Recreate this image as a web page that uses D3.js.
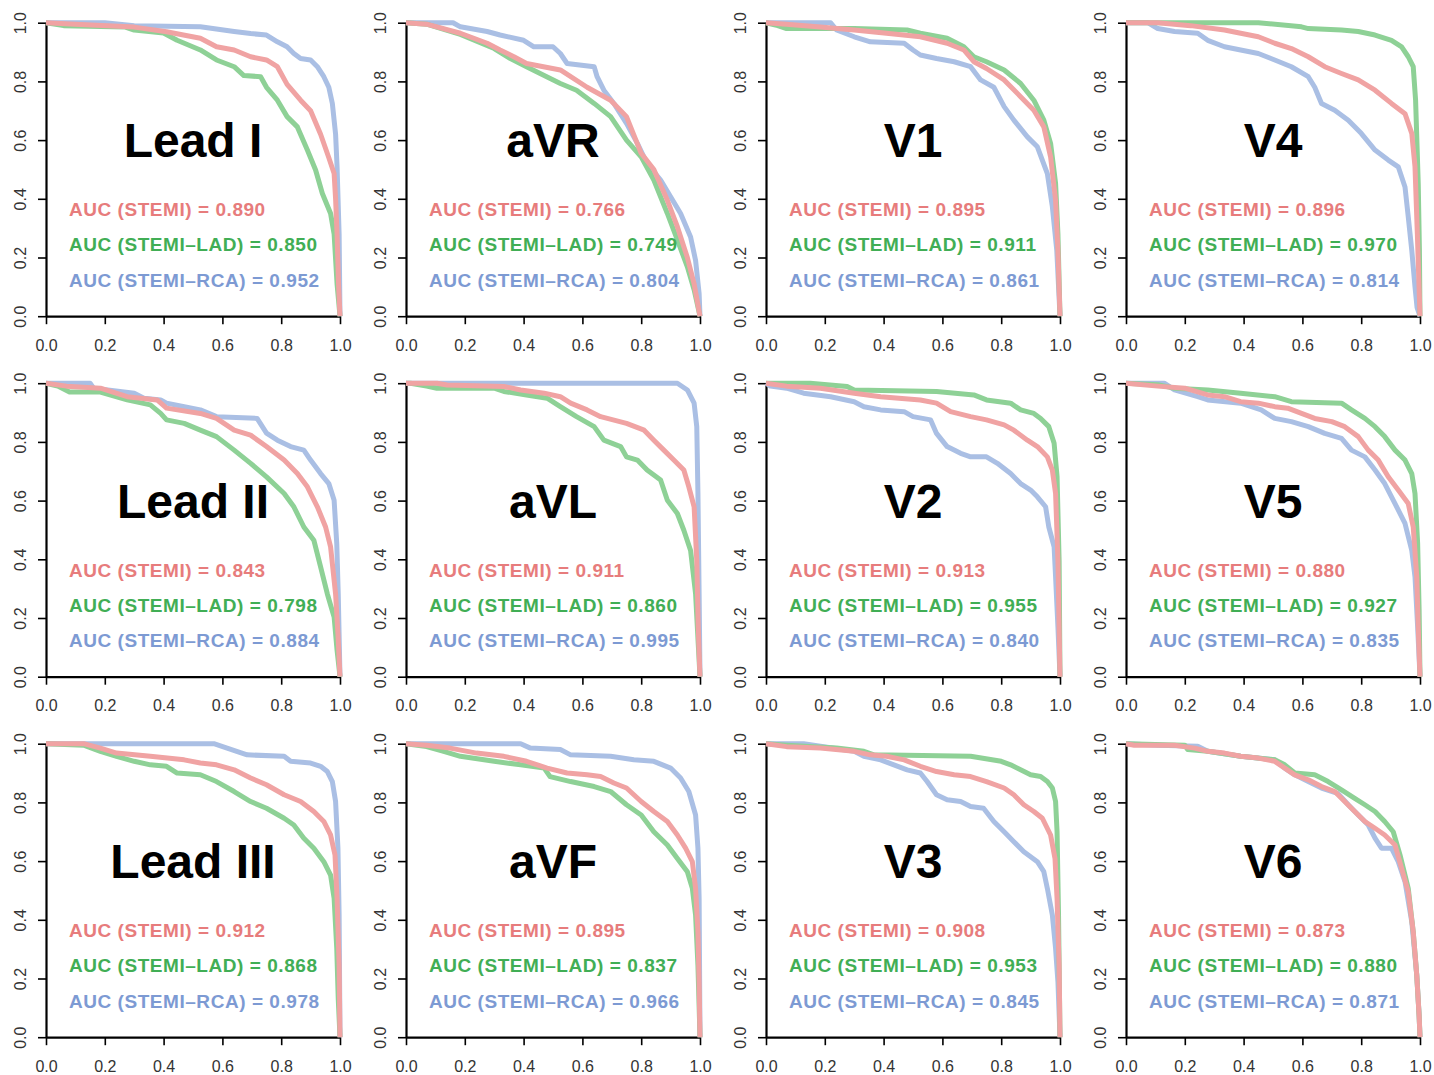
<!DOCTYPE html>
<html>
<head>
<meta charset="utf-8">
<script src="https://cdn.jsdelivr.net/npm/d3@7"></script>
<style>
  html, body { margin: 0; padding: 0; background: #ffffff; }
  svg { display: block; font-family: "Liberation Sans", Arial, Helvetica, sans-serif; }
</style>
</head>
<body>
<svg id="chart" width="1434" height="1075"></svg>
<script>
// ---------------- DATA ----------------
const leads = ["Lead I", "aVR", "V1", "V4",
               "Lead II", "aVL", "V2", "V5",
               "Lead III", "aVF", "V3", "V6"];

const seriesNames = ["STEMI", "STEMI\u2013LAD", "STEMI\u2013RCA"];

const aucStemi = ["0.890", "0.766", "0.895", "0.896", "0.843", "0.911", "0.913", "0.880", "0.912", "0.895", "0.908", "0.873"];
const aucLad   = ["0.850", "0.749", "0.911", "0.970", "0.798", "0.860", "0.955", "0.927", "0.868", "0.837", "0.953", "0.880"];
const aucRca   = ["0.952", "0.804", "0.861", "0.814", "0.884", "0.995", "0.840", "0.835", "0.978", "0.966", "0.845", "0.871"];

const tickValues = [0, 0.2, 0.4, 0.6, 0.8, 1.0];

// ROC curves: [x, y] points, one list per lead
const stemiCurves = [
  // Lead I
  [[0,1],[0.1,0.995],[0.3,0.985],[0.41,0.969],[0.525,0.947],[0.58,0.918],[0.64,0.907],[0.696,0.884],[0.75,0.873],[0.787,0.85],[0.82,0.79],[0.866,0.736],[0.9,0.70],[0.934,0.62],[0.962,0.54],[0.98,0.486],[0.985,0.4],[0.99,0.28],[0.995,0.11],[1,0]],
  // aVR
  [[0,1],[0.07,0.995],[0.185,0.964],[0.276,0.93],[0.32,0.907],[0.367,0.884],[0.41,0.861],[0.525,0.839],[0.616,0.78],[0.696,0.736],[0.75,0.68],[0.8,0.555],[0.843,0.5],[0.889,0.395],[0.923,0.305],[0.957,0.2],[0.98,0.11],[1,0]],
  // V1
  [[0,1],[0.07,0.995],[0.185,0.985],[0.3,0.975],[0.41,0.964],[0.525,0.952],[0.616,0.93],[0.673,0.907],[0.707,0.867],[0.75,0.844],[0.81,0.805],[0.866,0.748],[0.911,0.702],[0.945,0.645],[0.968,0.543],[0.985,0.395],[0.993,0.225],[1,0]],
  // V4
  [[0,1],[0.108,1.0],[0.22,0.99],[0.335,0.975],[0.39,0.964],[0.45,0.952],[0.506,0.93],[0.5625,0.912],[0.62,0.884],[0.676,0.85],[0.733,0.827],[0.79,0.805],[0.847,0.77],[0.903,0.725],[0.949,0.69],[0.972,0.623],[0.983,0.509],[0.991,0.28],[1,0]],
  // Lead II
  [[0,1],[0.07,0.99],[0.185,0.983],[0.276,0.954],[0.378,0.943],[0.41,0.915],[0.525,0.897],[0.58,0.88],[0.64,0.84],[0.696,0.823],[0.75,0.784],[0.81,0.738],[0.855,0.692],[0.889,0.647],[0.923,0.579],[0.951,0.51],[0.968,0.442],[0.985,0.282],[0.993,0.146],[1,0]],
  // aVL
  [[0,1],[0.105,1.0],[0.14,0.994],[0.333,0.989],[0.39,0.977],[0.47,0.966],[0.525,0.954],[0.56,0.932],[0.616,0.909],[0.662,0.886],[0.75,0.863],[0.81,0.84],[0.843,0.806],[0.877,0.772],[0.911,0.738],[0.945,0.704],[0.962,0.647],[0.98,0.579],[0.989,0.396],[0.994,0.169],[1,0]],
  // V2
  [[0,1],[0.07,0.99],[0.185,0.983],[0.3,0.966],[0.39,0.954],[0.525,0.943],[0.58,0.932],[0.628,0.903],[0.696,0.886],[0.75,0.875],[0.81,0.858],[0.843,0.84],[0.889,0.806],[0.923,0.784],[0.957,0.749],[0.974,0.704],[0.985,0.624],[0.993,0.396],[1,0]],
  // V5
  [[0,1],[0.108,0.99],[0.2,0.983],[0.278,0.96],[0.335,0.954],[0.39,0.937],[0.45,0.932],[0.506,0.92],[0.55,0.915],[0.597,0.897],[0.642,0.88],[0.7,0.869],[0.744,0.852],[0.79,0.818],[0.824,0.772],[0.858,0.738],[0.892,0.681],[0.926,0.636],[0.96,0.59],[0.977,0.51],[0.989,0.34],[0.994,0.169],[1,0]],
  // Lead III
  [[0,1],[0.128,1.0],[0.185,0.985],[0.24,0.968],[0.355,0.957],[0.47,0.945],[0.525,0.934],[0.58,0.928],[0.64,0.911],[0.696,0.883],[0.75,0.86],[0.81,0.826],[0.866,0.803],[0.911,0.769],[0.945,0.735],[0.968,0.689],[0.983,0.621],[0.99,0.473],[0.997,0.245],[1,0]],
  // aVF
  [[0,1],[0.07,0.995],[0.15,0.985],[0.24,0.968],[0.333,0.957],[0.41,0.94],[0.48,0.917],[0.548,0.9],[0.616,0.894],[0.662,0.888],[0.707,0.866],[0.75,0.849],[0.8,0.803],[0.843,0.769],[0.889,0.735],[0.923,0.689],[0.951,0.644],[0.974,0.598],[0.985,0.507],[0.993,0.359],[0.997,0.188],[1,0]],
  // V3
  [[0,1],[0.07,0.99],[0.185,0.985],[0.3,0.974],[0.355,0.962],[0.41,0.957],[0.47,0.945],[0.525,0.923],[0.58,0.905],[0.64,0.894],[0.696,0.888],[0.75,0.871],[0.81,0.849],[0.843,0.826],[0.877,0.792],[0.911,0.769],[0.94,0.746],[0.968,0.689],[0.983,0.609],[0.99,0.473],[0.997,0.245],[1,0]],
  // V6
  [[0,1],[0.028,0.995],[0.165,0.995],[0.233,0.985],[0.278,0.974],[0.335,0.968],[0.39,0.957],[0.45,0.951],[0.506,0.94],[0.54,0.917],[0.574,0.894],[0.62,0.877],[0.665,0.854],[0.71,0.837],[0.744,0.803],[0.778,0.769],[0.8125,0.735],[0.847,0.712],[0.88,0.689],[0.915,0.655],[0.9375,0.575],[0.96,0.495],[0.977,0.359],[0.989,0.211],[0.997,0.074],[1,0]]
];

const ladCurves = [
  // Lead I
  [[0,1],[0.06,0.99],[0.27,0.985],[0.3,0.975],[0.4,0.965],[0.446,0.94],[0.525,0.907],[0.58,0.873],[0.64,0.85],[0.673,0.82],[0.73,0.816],[0.75,0.78],[0.787,0.736],[0.82,0.68],[0.855,0.645],[0.889,0.566],[0.917,0.498],[0.94,0.418],[0.968,0.35],[0.98,0.28],[0.99,0.11],[1,0]],
  // aVR
  [[0,1],[0.07,0.995],[0.185,0.96],[0.3,0.912],[0.355,0.878],[0.41,0.85],[0.47,0.82],[0.525,0.793],[0.58,0.77],[0.64,0.725],[0.696,0.68],[0.75,0.6],[0.8,0.543],[0.843,0.464],[0.889,0.35],[0.923,0.26],[0.957,0.168],[0.98,0.09],[1,0]],
  // V1
  [[0,1],[0.04,0.99],[0.07,0.98],[0.3,0.98],[0.48,0.975],[0.525,0.964],[0.616,0.947],[0.673,0.918],[0.707,0.884],[0.75,0.867],[0.81,0.839],[0.866,0.793],[0.911,0.736],[0.945,0.668],[0.968,0.589],[0.985,0.452],[0.993,0.28],[1,0]],
  // V4
  [[0,1],[0.45,1.0],[0.597,0.986],[0.62,0.98],[0.733,0.975],[0.79,0.97],[0.847,0.958],[0.903,0.94],[0.9375,0.918],[0.96,0.884],[0.977,0.85],[0.985,0.736],[0.994,0.452],[0.998,0.225],[1,0]],
  // Lead II
  [[0,1],[0.04,0.99],[0.08,0.97],[0.185,0.97],[0.276,0.943],[0.355,0.926],[0.39,0.897],[0.41,0.875],[0.47,0.863],[0.525,0.84],[0.58,0.818],[0.64,0.772],[0.696,0.727],[0.75,0.681],[0.81,0.624],[0.843,0.579],[0.877,0.51],[0.911,0.465],[0.934,0.374],[0.957,0.282],[0.98,0.203],[0.99,0.09],[1,0]],
  // aVL
  [[0,1],[0.015,1.0],[0.07,0.99],[0.105,0.983],[0.3,0.983],[0.333,0.972],[0.41,0.96],[0.48,0.949],[0.525,0.92],[0.58,0.886],[0.64,0.852],[0.673,0.806],[0.73,0.784],[0.75,0.749],[0.787,0.738],[0.82,0.704],[0.866,0.67],[0.889,0.601],[0.923,0.556],[0.945,0.499],[0.968,0.43],[0.985,0.282],[0.994,0.112],[1,0]],
  // V2
  [[0,1],[0.15,1.0],[0.276,0.989],[0.3,0.977],[0.58,0.972],[0.707,0.96],[0.75,0.943],[0.832,0.932],[0.866,0.909],[0.911,0.897],[0.934,0.88],[0.962,0.852],[0.98,0.795],[0.99,0.681],[0.997,0.396],[1,0]],
  // V5
  [[0,1],[0.108,0.995],[0.165,0.983],[0.278,0.977],[0.39,0.966],[0.506,0.954],[0.5625,0.937],[0.733,0.932],[0.767,0.909],[0.8125,0.88],[0.847,0.852],[0.88,0.818],[0.915,0.772],[0.949,0.738],[0.972,0.692],[0.983,0.624],[0.992,0.453],[0.997,0.226],[1,0]],
  // Lead III
  [[0,1],[0.128,0.995],[0.185,0.974],[0.24,0.957],[0.3,0.94],[0.355,0.928],[0.41,0.923],[0.446,0.9],[0.525,0.894],[0.58,0.871],[0.64,0.837],[0.696,0.803],[0.75,0.78],[0.81,0.746],[0.843,0.723],[0.877,0.678],[0.911,0.644],[0.945,0.598],[0.968,0.552],[0.98,0.473],[0.989,0.302],[0.994,0.131],[1,0]],
  // aVF
  [[0,1],[0.07,0.99],[0.128,0.974],[0.185,0.957],[0.3,0.94],[0.39,0.928],[0.47,0.917],[0.49,0.888],[0.56,0.871],[0.64,0.854],[0.696,0.837],[0.75,0.792],[0.8,0.757],[0.843,0.7],[0.889,0.655],[0.923,0.609],[0.957,0.564],[0.974,0.507],[0.985,0.416],[0.993,0.245],[1,0]],
  // V3
  [[0,1],[0.07,0.995],[0.24,0.985],[0.333,0.974],[0.367,0.962],[0.696,0.957],[0.8,0.94],[0.832,0.928],[0.866,0.911],[0.9,0.894],[0.934,0.888],[0.957,0.871],[0.974,0.849],[0.985,0.803],[0.99,0.7],[0.995,0.416],[1,0]],
  // V6
  [[0,1],[0.2,0.995],[0.21,0.98],[0.278,0.974],[0.39,0.957],[0.506,0.945],[0.54,0.928],[0.574,0.9],[0.642,0.894],[0.6875,0.871],[0.733,0.843],[0.778,0.814],[0.8125,0.792],[0.847,0.769],[0.88,0.735],[0.909,0.7],[0.932,0.621],[0.96,0.507],[0.977,0.359],[0.989,0.211],[0.997,0.074],[1,0]]
];

const rcaCurves = [
  // Lead I
  [[0,1],[0.2,1.0],[0.3,0.99],[0.525,0.986],[0.64,0.97],[0.696,0.963],[0.75,0.958],[0.787,0.935],[0.82,0.918],[0.843,0.895],[0.866,0.878],[0.9,0.873],[0.923,0.85],[0.945,0.816],[0.962,0.78],[0.974,0.725],[0.985,0.62],[0.99,0.51],[0.997,0.28],[1,0]],
  // aVR
  [[0,1],[0.16,1.0],[0.185,0.986],[0.276,0.97],[0.32,0.958],[0.4,0.94],[0.435,0.918],[0.5,0.918],[0.525,0.895],[0.548,0.861],[0.64,0.85],[0.65,0.816],[0.673,0.77],[0.707,0.725],[0.75,0.657],[0.787,0.589],[0.82,0.52],[0.866,0.464],[0.9,0.407],[0.934,0.35],[0.968,0.27],[0.985,0.19],[0.997,0.077],[1,0]],
  // V1
  [[0,1],[0.22,1.0],[0.24,0.975],[0.3,0.952],[0.355,0.935],[0.47,0.93],[0.5,0.907],[0.525,0.89],[0.58,0.878],[0.64,0.867],[0.696,0.85],[0.73,0.805],[0.775,0.78],[0.81,0.714],[0.843,0.668],[0.889,0.611],[0.923,0.577],[0.957,0.486],[0.974,0.373],[0.989,0.225],[1,0]],
  // V4
  [[0,1],[0.074,1.0],[0.108,0.98],[0.165,0.97],[0.244,0.964],[0.278,0.94],[0.335,0.918],[0.39,0.907],[0.45,0.895],[0.506,0.873],[0.5625,0.85],[0.62,0.816],[0.642,0.78],[0.665,0.725],[0.71,0.702],[0.756,0.668],[0.8,0.623],[0.847,0.566],[0.892,0.532],[0.926,0.509],[0.949,0.44],[0.96,0.339],[0.972,0.225],[0.983,0.1],[0.99,0.03],[1,0]],
  // Lead II
  [[0,1],[0.15,1.0],[0.162,0.983],[0.3,0.966],[0.333,0.949],[0.39,0.943],[0.41,0.932],[0.47,0.92],[0.525,0.909],[0.58,0.886],[0.718,0.88],[0.75,0.83],[0.787,0.806],[0.832,0.784],[0.877,0.772],[0.9,0.738],[0.934,0.692],[0.962,0.658],[0.98,0.601],[0.989,0.453],[0.994,0.282],[1,0]],
  // aVL
  [[0,1],[0.923,1.0],[0.957,0.977],[0.98,0.932],[0.989,0.852],[0.993,0.624],[0.997,0.282],[1,0]],
  // V2
  [[0,1],[0.015,0.99],[0.07,0.983],[0.128,0.966],[0.22,0.954],[0.3,0.937],[0.333,0.92],[0.39,0.909],[0.47,0.903],[0.5,0.886],[0.56,0.875],[0.58,0.829],[0.616,0.784],[0.662,0.761],[0.696,0.749],[0.75,0.749],[0.787,0.727],[0.832,0.692],[0.866,0.658],[0.9,0.636],[0.923,0.613],[0.951,0.579],[0.962,0.51],[0.98,0.442],[0.985,0.34],[0.993,0.169],[1,0]],
  // V5
  [[0,1],[0.13,1.0],[0.165,0.977],[0.244,0.954],[0.278,0.943],[0.39,0.932],[0.46,0.909],[0.506,0.88],[0.5625,0.869],[0.62,0.852],[0.676,0.829],[0.733,0.812],[0.767,0.772],[0.8125,0.749],[0.847,0.704],[0.88,0.658],[0.915,0.59],[0.949,0.522],[0.972,0.43],[0.983,0.34],[0.992,0.169],[1,0]],
  // Lead III
  [[0,1],[0.571,1.0],[0.616,0.985],[0.684,0.962],[0.81,0.957],[0.832,0.94],[0.9,0.934],[0.934,0.923],[0.957,0.905],[0.974,0.871],[0.985,0.803],[0.993,0.644],[0.997,0.416],[1,0]],
  // aVF
  [[0,1],[0.39,1.0],[0.423,0.985],[0.525,0.98],[0.56,0.962],[0.696,0.957],[0.775,0.945],[0.843,0.94],[0.9,0.917],[0.934,0.883],[0.962,0.837],[0.985,0.757],[0.993,0.644],[0.997,0.473],[1,0]],
  // V3
  [[0,1],[0.128,1.0],[0.185,0.991],[0.3,0.974],[0.333,0.957],[0.39,0.945],[0.435,0.928],[0.48,0.911],[0.525,0.9],[0.548,0.871],[0.58,0.826],[0.616,0.809],[0.662,0.803],[0.696,0.786],[0.74,0.78],[0.775,0.735],[0.81,0.7],[0.843,0.666],[0.877,0.632],[0.923,0.598],[0.945,0.564],[0.957,0.507],[0.974,0.416],[0.985,0.302],[0.993,0.188],[1,0]],
  // V6
  [[0,1],[0.108,0.995],[0.244,0.991],[0.278,0.974],[0.39,0.957],[0.506,0.945],[0.54,0.917],[0.574,0.894],[0.62,0.871],[0.665,0.849],[0.72,0.831],[0.756,0.792],[0.79,0.757],[0.824,0.723],[0.847,0.678],[0.869,0.644],[0.903,0.644],[0.926,0.598],[0.949,0.53],[0.972,0.393],[0.989,0.211],[0.997,0.074],[1,0]]
];

// ---------------- STYLE ----------------
const lineColors = ["#F0A3A3", "#8ED196", "#AABFE4"];  // STEMI, LAD, RCA
const textColors = ["#E77C7C", "#41AE55", "#7D9AD3"];

const svg = d3.select("#chart");
svg.append("rect").attr("width", 1434).attr("height", 1075).attr("fill", "#ffffff");

const plotW = 294, plotH = 293.5;
const colX = [46, 406, 766, 1126];
const rowY = [22.7, 383.2, 743.7];

leads.forEach((lead, i) => {
  const r = Math.floor(i / 4), c = i % 4;
  const g = svg.append("g").attr("transform", `translate(${colX[c]},${rowY[r]})`);
  const x = d3.scaleLinear().domain([0, 1]).range([0, plotW]);
  const y = d3.scaleLinear().domain([0, 1]).range([plotH, 0]);

  // axes
  const xAxis = g.append("g").attr("transform", `translate(0,${plotH})`)
    .call(d3.axisBottom(x).tickValues(tickValues).tickFormat(d3.format(".1f"))
      .tickSize(8).tickSizeOuter(0).tickPadding(15));
  const yAxis = g.append("g")
    .call(d3.axisLeft(y).tickValues(tickValues).tickFormat(d3.format(".1f"))
      .tickSize(8).tickSizeOuter(0));
  [xAxis, yAxis].forEach(a => {
    a.select(".domain").attr("stroke", "#000").attr("stroke-width", 2.2);
    a.selectAll(".tick line").attr("stroke", "#000").attr("stroke-width", 1.6);
    a.selectAll(".tick text").attr("fill", "#333333")
      .style("font-size", "16px").style("font-family", '"Liberation Sans", Arial, sans-serif');
  });
  yAxis.selectAll(".tick text")
    .attr("transform", "rotate(-90)")
    .attr("x", 0).attr("y", -20).attr("dy", 0)
    .attr("text-anchor", "middle");

  // curves
  const line = d3.line().x(d => x(d[0])).y(d => y(d[1]));
  const curves = [rcaCurves[i], ladCurves[i], stemiCurves[i]];
  const cols = [lineColors[2], lineColors[1], lineColors[0]];
  curves.forEach((pts, k) => {
    g.append("path").datum(pts)
      .attr("d", line)
      .attr("fill", "none")
      .attr("stroke", cols[k])
      .attr("stroke-width", 5)
      .attr("stroke-linejoin", "round")
      .attr("stroke-linecap", "butt");
  });

  // title
  g.append("text")
    .attr("x", x(0.5)).attr("y", y(0.6) + 17)
    .attr("text-anchor", "middle")
    .style("font-size", "48px").style("font-weight", "bold")
    .attr("fill", "#000")
    .text(lead);

  // AUC labels
  const aucs = [aucStemi[i], aucLad[i], aucRca[i]];
  const centers = [0.364, 0.244, 0.124];
  seriesNames.forEach((nm, k) => {
    g.append("text")
      .attr("x", x(0.078)).attr("y", y(centers[k]) + 6.8)
      .attr("text-anchor", "start")
      .style("font-size", "19px").style("font-weight", "bold")
      .style("letter-spacing", "0.55px")
      .attr("fill", textColors[k])
      .text(`AUC (${nm}) = ${aucs[k]}`);
  });
});
</script>
</body>
</html>
